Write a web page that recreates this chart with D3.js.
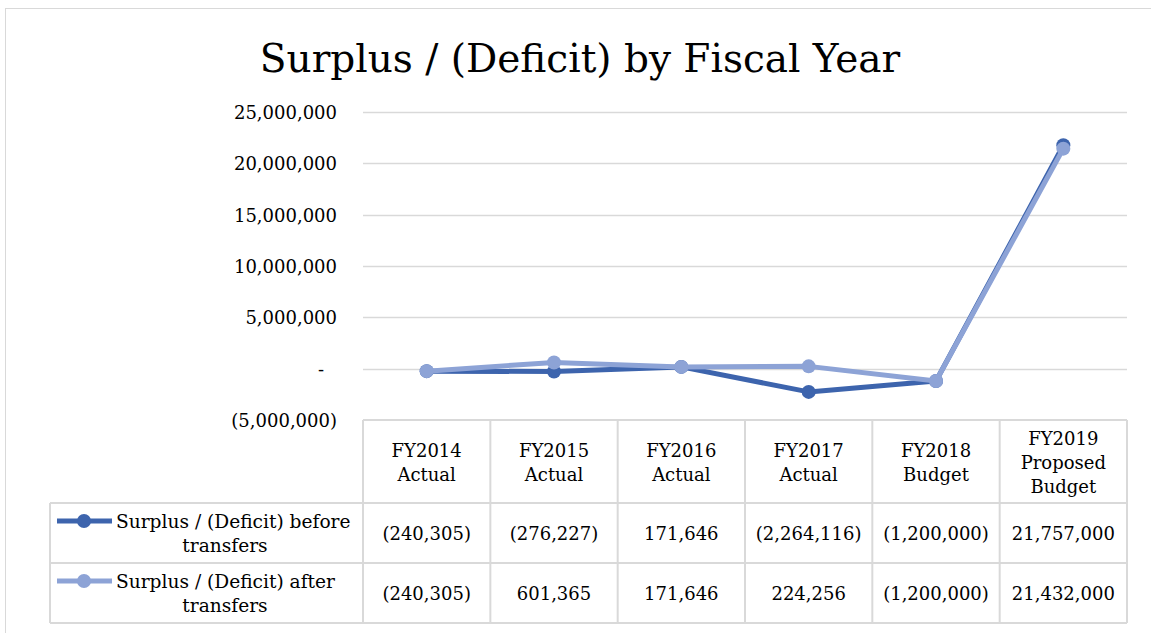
<!DOCTYPE html>
<html lang="en">
<head>
  <meta charset="UTF-8">
  <title>Surplus / (Deficit) by Fiscal Year</title>
  <script src="https://d3js.org/d3.v7.min.js"></script>
  <style>
    body { margin: 0; background: #fff; }
    svg { display: block; font-family: "DejaVu Serif", serif; }
  </style>
</head>
<body>
  <script>
    // data
    const categories = [
      ["FY2014", "Actual"],
      ["FY2015", "Actual"],
      ["FY2016", "Actual"],
      ["FY2017", "Actual"],
      ["FY2018", "Budget"],
      ["FY2019", "Proposed", "Budget"]
    ];
    const beforeTransfers = [-240305, -276227, 171646, -2264116, -1200000, 21757000];
    const afterTransfers = [-240305, 601365, 171646, 224256, -1200000, 21432000];
    const seriesNames = [
      ["Surplus / (Deficit) before", "transfers"],
      ["Surplus / (Deficit) after", "transfers"]
    ];
    const yTicks = [-5000000, 0, 5000000, 10000000, 15000000, 20000000, 25000000];

    const width = 1151, height = 633;
    const colors = ["#3d64ad", "#8da3d6"];

    const svg = d3.select("body").append("svg")
      .attr("width", width)
      .attr("height", height);

    // chart frame
    svg.append("rect")
      .attr("x", 5.5).attr("y", 8.5)
      .attr("width", 1160).attr("height", 640)
      .attr("fill", "#fff").attr("stroke", "#d9d9d9");

    svg.append("text")
      .attr("x", 580).attr("y", 72)
      .attr("text-anchor", "middle")
      .attr("font-size", 39)
      .attr("fill", "#000")
      .text("Surplus / (Deficit) by Fiscal Year");

    const x = d3.scaleBand()
      .domain(d3.range(categories.length))
      .range([363, 1127]);

    const y = d3.scaleLinear()
      .domain([-5000000, 25000000])
      .range([420, 112]);

    const fmt = v => v === 0 ? "-" : (v < 0 ? "(" + d3.format(",")(-v) + ")" : d3.format(",")(v));

    // gridlines
    svg.append("g").selectAll("line")
      .data(yTicks.filter(t => t > -5000000))
      .enter().append("line")
      .attr("x1", 363).attr("x2", 1127)
      .attr("y1", d => Math.round(y(d)) + 0.5)
      .attr("y2", d => Math.round(y(d)) + 0.5)
      .attr("stroke", "#d9d9d9").attr("stroke-width", 1.5);

    svg.append("g").selectAll("text")
      .data(yTicks)
      .enter().append("text")
      .attr("x", d => d === 0 ? 324 : 337)
      .attr("y", d => y(d) + 7)
      .attr("text-anchor", "end")
      .attr("font-size", 18)
      .text(fmt);

    // lines
    const line = d3.line()
      .x((d, i) => x(i) + x.bandwidth() / 2)
      .y(d => y(d));

    [beforeTransfers, afterTransfers].forEach((vals, k) => {
      svg.append("path")
        .datum(vals)
        .attr("d", line)
        .attr("fill", "none")
        .attr("stroke", colors[k])
        .attr("stroke-width", 5)
        .attr("stroke-linejoin", "round");
      svg.append("g").selectAll("circle")
        .data(vals)
        .enter().append("circle")
        .attr("cx", (d, i) => x(i) + x.bandwidth() / 2)
        .attr("cy", d => y(d))
        .attr("r", 7)
        .attr("fill", colors[k]);
    });

    // data table
    const tbl = svg.append("g");
    const rowY = [420, 503, 563, 623];
    const gridC = "#d9d9d9";

    // horizontal lines
    tbl.append("line").attr("x1", 363).attr("x2", 1127).attr("y1", 420).attr("y2", 420)
      .attr("stroke", gridC).attr("stroke-width", 2);
    [503, 563, 623].forEach(yy => {
      tbl.append("line").attr("x1", 50).attr("x2", 1127).attr("y1", yy).attr("y2", yy)
        .attr("stroke", gridC).attr("stroke-width", 2);
    });
    // vertical lines
    d3.range(categories.length + 1).forEach(i => {
      const xx = i < categories.length ? x(i) : 1127;
      tbl.append("line").attr("x1", xx).attr("x2", xx).attr("y1", 420).attr("y2", 623)
        .attr("stroke", gridC).attr("stroke-width", 2);
    });
    tbl.append("line").attr("x1", 50).attr("x2", 50).attr("y1", 503).attr("y2", 623)
      .attr("stroke", gridC).attr("stroke-width", 2);

    // header
    categories.forEach((c, i) => {
      const cx = x(i) + x.bandwidth() / 2;
      const top = 461.5 - (c.length - 1) * 24 / 2;
      c.forEach((s, j) => {
        tbl.append("text")
          .attr("x", cx).attr("y", top + j * 24 + 7)
          .attr("text-anchor", "middle")
          .attr("font-size", 18)
          .text(s);
      });
    });

    // rows
    [beforeTransfers, afterTransfers].forEach((vals, k) => {
      const r0 = rowY[k + 1], r1 = rowY[k + 2];
      const mid = (r0 + r1) / 2;
      vals.forEach((v, i) => {
        tbl.append("text")
          .attr("x", x(i) + x.bandwidth() / 2).attr("y", mid + 7)
          .attr("text-anchor", "middle")
          .attr("font-size", 18)
          .text(fmt(v));
      });
      // legend key
      tbl.append("line")
        .attr("x1", 57).attr("x2", 112)
        .attr("y1", mid - 12).attr("y2", mid - 12)
        .attr("stroke", colors[k]).attr("stroke-width", 5);
      tbl.append("circle")
        .attr("cx", 84).attr("cy", mid - 12).attr("r", 7)
        .attr("fill", colors[k]);
      tbl.append("text")
        .attr("x", 116).attr("y", mid - 5)
        .attr("font-size", 18.6)
        .text(seriesNames[k][0]);
      tbl.append("text")
        .attr("x", 225).attr("y", mid + 19)
        .attr("text-anchor", "middle")
        .attr("font-size", 18.6)
        .text(seriesNames[k][1]);
    });
  </script>
</body>
</html>
